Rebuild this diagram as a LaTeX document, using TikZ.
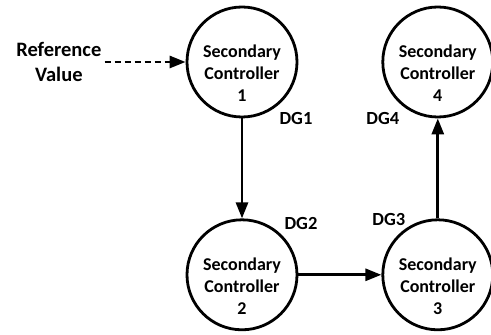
\documentclass[tikz,border=0pt]{standalone}
\usepackage{fontspec}
\setmainfont{Carlito}
\usetikzlibrary{positioning,arrows.meta}

\tikzset{
  ctrl/.style={circle, draw, line width=2.8pt, minimum size=110pt, inner sep=0pt},
  ctrltext/.style={align=center, yshift=-11pt, font=\bfseries\fontsize{18}{22}\selectfont},
  dglabel/.style={font=\bfseries\fontsize{18.5}{22}\selectfont, inner sep=0pt},
  link/.style={line width=2.8pt, -{Triangle[length=16pt,width=12pt]}},
}

\begin{document}
\begin{tikzpicture}[x=1pt,y=1pt]
\useasboundingbox (0,0) rectangle (491,335);
% the four controllers, text sits a little below the centre
\node[ctrl, label={[ctrltext]center:{Secondary\\Controller\\1}}] (c1) at (242,273) {};
\node[ctrl, below=100pt of c1, label={[ctrltext]center:{Secondary\\Controller\\2}}] (c2) {};
\node[ctrl, right=83pt of c2, label={[ctrltext]center:{Secondary\\Controller\\3}}] (c3) {};
\node[ctrl, above=100pt of c3, label={[ctrltext]center:{Secondary\\Controller\\4}}] (c4) {};
% reference input
\node[align=center, inner sep=1pt, font=\bfseries\fontsize{20.5}{25}\selectfont,
  left=83pt of c1] (ref) {Reference\\Value};
% unit labels
\node[dglabel] (dg1) at ([xshift=54pt,yshift=-57pt]c1.center) {DG1};
\node[dglabel] (dg2) at ([xshift=59pt,yshift=51pt]c2.center) {DG2};
\node[dglabel] (dg3) at ([xshift=-49pt,yshift=55pt]c3.center) {DG3};
\node[dglabel] (dg4) at ([xshift=-55pt,yshift=-57pt]c4.center) {DG4};
% connections
\draw[link, dash pattern=on 6.5pt off 3.5pt, shorten <=2pt] (ref) -- (c1);
\draw[link] (c1) -- (c2);
\draw[link] (c2) -- (c3);
\draw[link] (c3) -- (c4);
\end{tikzpicture}
\end{document}
